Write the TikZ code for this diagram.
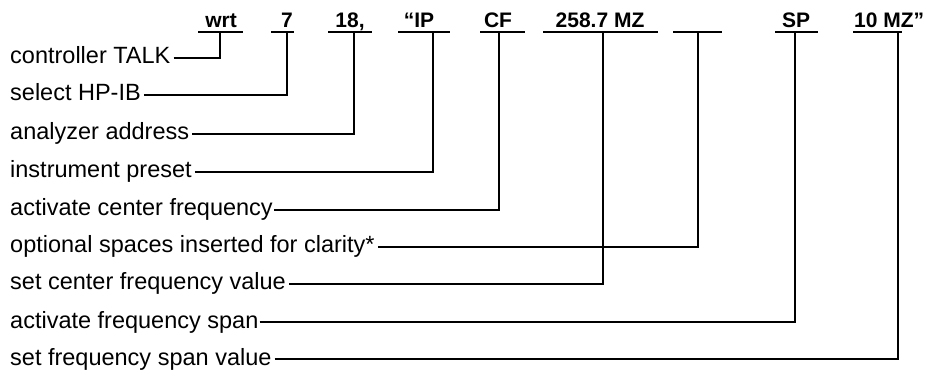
\documentclass[tikz,border=0pt]{standalone}
\usepackage{fontspec}
\setmainfont{Liberation Sans}
\usepackage{tikz}
\newcommand{\tokbar}[4]{\draw[wire] (#1,32) to (#2,32); \coordinate (#4) at (#3,32)}

\begin{document}
\begin{tikzpicture}[x=1pt,y=-1pt]
	\tikzset{
		wire/.style={line width=1.2pt},
		tok/.style={anchor=base, inner sep=0pt, font=\fontsize{21}{21}\selectfont\bfseries},
		lab/.style={anchor=west, inner xsep=3pt, inner ysep=0pt, text height=12pt, text depth=0pt, font=\fontsize{23.5}{23.5}\selectfont}
	}
	\useasboundingbox (0,0) rectangle (937,371);
	
	% command tokens
	\node[tok] (wrt) at (221,28) {wrt};
	\node[tok] (hpib) at (287,28) {7};
	\node[tok] (addr) at (350,28) {18,};
	\node[tok] (ip) at (419,28) {“IP};
	\node[tok] (cf) at (498,28) {CF};
	\node[tok] (cfv) at (600,28) {258.7 MZ};
	\node[tok] (sp) at (796,28) {SP};
	\node[tok, anchor=base west] (spv) at (854,28) {10 MZ”};
	
	\begin{scope}
		\tokbar{198}{243}{220}{dWrt};
		\tokbar{271}{294}{287}{dHpib};
		\tokbar{328}{372}{354}{dAddr};
		\tokbar{398}{450}{433}{dIp};
		\tokbar{480}{525}{499}{dCf};
		\tokbar{543}{658}{603}{dCfv};
		\tokbar{673}{722}{698}{dSpc};
		\tokbar{775}{818}{795}{dSp};
		\tokbar{853}{902}{898}{dSpv};
	\end{scope}
	
	% explanations
	\node[lab] (lTalk) at (7,58) {controller TALK};
	\node[lab] (lHpib) at (7,95) {select HP-IB};
	\node[lab] (lAddr) at (7,134) {analyzer address};
	\node[lab] (lIp) at (7,172) {instrument preset};
	\node[lab, inner xsep=1pt] (lCf) at (9,210) {activate center frequency};
	\node[lab] (lSpc) at (7,247) {optional spaces inserted for clarity*};
	\node[lab] (lCfv) at (7,284) {set center frequency value};
	\node[lab, inner xsep=1pt] (lSp) at (9,322) {activate frequency span};
	\node[lab] (lSpv) at (7,359) {set frequency span value};
	
	\begin{scope}[wire]
		\draw (lTalk.east) -| (dWrt);
		\draw (lHpib.east) -| (dHpib);
		\draw (lAddr.east) -| (dAddr);
		\draw (lIp.east) -| (dIp);
		\draw (lCf.east) -| (dCf);
		\draw (lSpc.east) -| (dSpc);
		\draw (lCfv.east) -| (dCfv);
		\draw (lSp.east) -| (dSp);
		\draw (lSpv.east) -| (dSpv);
	\end{scope}
\end{tikzpicture}
\end{document}
